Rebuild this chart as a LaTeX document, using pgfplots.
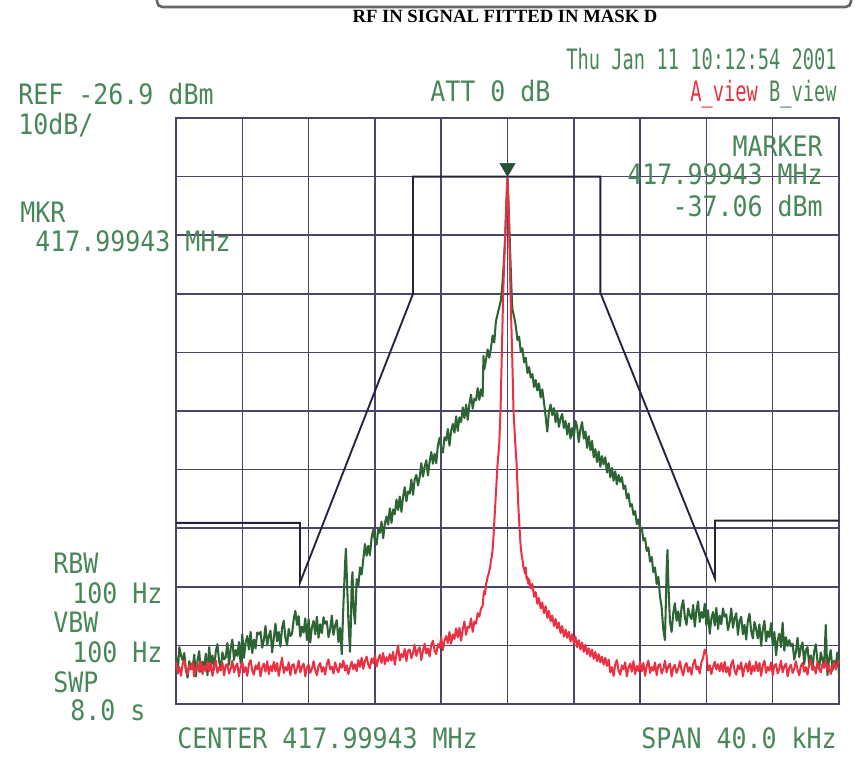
\documentclass[border=0pt]{standalone}
\usepackage{pgfplots}
\pgfplotsset{compat=1.18}
\usepackage{fontspec}
\newfontfamily\inst[FakeStretch=0.887]{DejaVu Sans Mono}
\newfontfamily\instn[FakeStretch=0.665]{DejaVu Sans Mono}
\newfontfamily\ttlfont{Liberation Serif}
\newcommand\IF{\inst\fontsize{21.1}{24}\selectfont}
\newcommand\IN{\instn\fontsize{21.1}{24}\selectfont}
\definecolor{txtgreen}{RGB}{72,135,88}
\definecolor{trgreen}{RGB}{45,100,52}
\definecolor{trred}{RGB}{235,48,66}
\definecolor{maskc}{RGB}{35,35,60}
\definecolor{gridc}{RGB}{78,68,105}
\definecolor{mkgreen}{RGB}{40,80,52}
\begin{document}
\begin{tikzpicture}
\path[use as bounding box] (0,0) rectangle (641.25pt,570pt);
\begin{axis}[
  at={(132pt,42pt)}, anchor=south west,
  width=497.25pt, height=439.5pt, scale only axis,
  xmin=-20, xmax=20, ymin=-126.9, ymax=-26.9,
  xtick={-16,-12,-8,-4,0,4,8,12,16},
  ytick={-116.9,-106.9,-96.9,-86.9,-76.9,-66.9,-56.9,-46.9,-36.9},
  xticklabels={}, yticklabels={},
  major tick length=0pt,
  grid=major,
  major grid style={color=gridc, line width=1.15pt},
  axis line style={color=gridc, line width=1.7pt},
  clip=false,
]
% mask
\addplot[maskc, line width=1.4pt, sharp plot] coordinates {
(-20,-96) (-12.52,-96) (-12.52,-106.2) (-5.7,-56.9) (-5.7,-36.9)
(5.6,-36.9) (5.6,-56.7) (12.52,-105.5) (12.52,-95.6) (20,-95.6)};
% B_view (green)
\addplot[trgreen, line width=1.55pt, sharp plot, line join=round] coordinates {
(-20.0,-118.7) (-19.9,-121.7) (-19.8,-117.2) (-19.7,-118.6) (-19.6,-119.4)
(-19.5,-118.2) (-19.4,-121.1) (-19.3,-122.4) (-19.2,-119.6) (-19.1,-120.8)
(-19.0,-120.9) (-18.9,-118.5) (-18.8,-122.2) (-18.7,-119.4) (-18.6,-117.9)
(-18.5,-121.4) (-18.4,-119.7) (-18.3,-120.7) (-18.2,-118.3) (-18.1,-122.0)
(-18.0,-117.2) (-17.9,-120.2) (-17.8,-118.6) (-17.7,-121.1) (-17.6,-117.9)
(-17.5,-116.7) (-17.4,-119.6) (-17.3,-120.9) (-17.2,-118.1) (-17.1,-119.3)
(-17.0,-118.9) (-16.9,-116.5) (-16.8,-120.2) (-16.7,-117.4) (-16.6,-115.9)
(-16.5,-119.4) (-16.4,-117.7) (-16.3,-118.7) (-16.2,-116.3) (-16.1,-120.0)
(-16.0,-115.0) (-15.9,-119.0) (-15.8,-116.4) (-15.7,-115.3) (-15.6,-117.6)
(-15.5,-114.6) (-15.4,-118.2) (-15.3,-115.9) (-15.2,-117.4) (-15.1,-114.7)
(-15.0,-115.0) (-14.9,-114.6) (-14.8,-117.3) (-14.7,-116.0) (-14.6,-113.6)
(-14.5,-116.9) (-14.4,-115.3) (-14.3,-114.4) (-14.2,-118.1) (-14.1,-115.7)
(-14.0,-113.2) (-13.9,-116.2) (-13.8,-114.6) (-13.7,-117.1) (-13.6,-113.9)
(-13.5,-112.7) (-13.4,-115.6) (-13.3,-116.9) (-13.2,-114.1) (-13.1,-115.3)
(-13.0,-114.9) (-12.9,-112.5) (-12.8,-111.0) (-12.7,-113.4) (-12.6,-111.9)
(-12.5,-115.4) (-12.4,-113.7) (-12.3,-114.7) (-12.2,-112.3) (-12.1,-116.0)
(-12.0,-112.4) (-11.9,-116.4) (-11.8,-113.8) (-11.7,-112.7) (-11.6,-115.0)
(-11.5,-112.0) (-11.4,-115.6) (-11.3,-113.3) (-11.2,-114.8) (-11.1,-112.1)
(-11.0,-113.2) (-10.9,-112.8) (-10.8,-115.5) (-10.7,-114.2) (-10.6,-111.8)
(-10.5,-115.1) (-10.4,-113.5) (-10.3,-112.6) (-10.2,-116.3) (-10.1,-113.9)
(-10.0,-118.4) (-9.95,-114.0) (-9.9,-110.0) (-9.8,-103.0) (-9.75,-100.4)
(-9.7,-104.6) (-9.6,-112.6) (-9.5,-118.0) (-9.45,-113.0) (-9.4,-106.0)
(-9.35,-104.4) (-9.3,-110.2) (-9.2,-113.2) (-9.1,-105.6) (-9.0,-106.8)
(-8.9,-103.6) (-8.8,-104.8) (-8.7,-102.2)
(-8.6,-99.6) (-8.5,-101.6) (-8.4,-99.9) (-8.3,-101.5) (-8.2,-98.5)
(-8.1,-97.2) (-8.0,-99.1) (-7.9,-99.7) (-7.8,-97.1) (-7.7,-97.7)
(-7.6,-95.8) (-7.5,-98.6) (-7.4,-96.1) (-7.3,-94.9) (-7.2,-96.3)
(-7.1,-93.5) (-7.0,-96.0) (-6.9,-93.7) (-6.8,-94.5) (-6.7,-92.0)
(-6.6,-93.8) (-6.5,-91.5) (-6.4,-94.1) (-6.3,-91.5) (-6.2,-89.9)
(-6.1,-92.3) (-6.0,-90.6) (-5.9,-91.0) (-5.8,-88.6) (-5.7,-91.2)
(-5.6,-88.6) (-5.5,-87.8) (-5.4,-89.6) (-5.3,-88.2) (-5.2,-85.8)
(-5.1,-88.1) (-5.0,-86.4) (-4.9,-85.3) (-4.8,-87.9) (-4.7,-85.6)
(-4.6,-83.9) (-4.5,-85.9) (-4.4,-84.2) (-4.3,-85.8) (-4.2,-82.8)
(-4.1,-81.5) (-4.0,-83.4) (-3.9,-84.0) (-3.8,-81.4) (-3.7,-81.9)
(-3.6,-80.0) (-3.5,-82.8) (-3.4,-80.3) (-3.3,-79.1) (-3.2,-80.6)
(-3.1,-77.8) (-3.0,-80.3) (-2.9,-78.0) (-2.8,-78.8) (-2.7,-76.3)
(-2.6,-78.1) (-2.5,-75.8) (-2.4,-78.4) (-2.3,-75.7) (-2.2,-74.1)
(-2.1,-76.5) (-2.0,-74.8) (-1.9,-75.1) (-1.8,-73.0) (-1.7,-75.0)
(-1.6,-73.2) (-1.5,-74.4) (-1.45,-67.5) (-1.4,-69.8) (-1.3,-68.2)
(-1.2,-66.4) (-1.1,-67.8) (-1.0,-66.2) (-0.9,-64.0) (-0.8,-65.2)
(-0.7,-61.6) (-0.6,-60.4) (-0.5,-59.2) (-0.4,-58.0) (-0.3,-55.0)
(-0.15,-48.0) (-0.05,-40.0) (0.0,-37.06) (0.05,-40.5) (0.15,-49.0)
(0.25,-57.0) (0.3,-59.6) (0.4,-60.8) (0.5,-62.4) (0.6,-64.8)
(0.7,-64.2) (0.8,-66.8) (0.9,-66.2) (1.0,-68.6) (1.1,-67.8)
(1.2,-70.4) (1.3,-69.4) (1.4,-71.2) (1.5,-70.6) (1.6,-72.8)
(1.7,-71.6) (1.8,-73.4) (1.9,-72.2) (2.0,-74.6) (2.1,-73.2)
(2.2,-75.4) (2.3,-77.8) (2.4,-80.4) (2.5,-77.0) (2.6,-75.8)
(2.7,-77.6) (2.8,-76.4) (2.9,-78.8) (3.0,-77.2) (3.1,-79.6)
(3.2,-78.2) (3.3,-77.4) (3.4,-79.8) (3.5,-78.6) (3.6,-80.9)
(3.7,-79.0) (3.8,-81.6) (3.9,-79.8) (4.0,-81.4) (4.1,-78.6)
(4.2,-79.6) (4.3,-82.2) (4.4,-80.0) (4.5,-78.8) (4.6,-81.6)
(4.7,-80.4) (4.8,-83.2) (4.9,-81.2) (5.0,-83.6) (5.1,-82.0)
(5.2,-84.8) (5.3,-83.4) (5.4,-85.6) (5.5,-83.8) (5.6,-86.4)
(5.7,-84.6) (5.8,-86.0) (5.9,-84.8) (6.0,-87.4) (6.1,-85.8)
(6.2,-88.2) (6.3,-86.6) (6.4,-88.8) (6.5,-87.2) (6.6,-89.4)
(6.7,-87.8) (6.8,-89.0) (6.9,-88.2) (7.0,-90.2) (7.1,-89.6)
(7.2,-91.8) (7.3,-91.0) (7.4,-93.2) (7.5,-92.8) (7.6,-94.6)
(7.7,-94.0) (7.8,-96.2) (7.9,-95.4) (8.0,-97.2) (8.1,-96.8)
(8.2,-99.0) (8.3,-98.6) (8.4,-100.8) (8.5,-100.2) (8.6,-102.6)
(8.7,-101.8) (8.8,-104.4) (8.9,-103.6) (9.0,-106.4) (9.1,-105.2)
(9.2,-108.6) (9.3,-110.4) (9.4,-114.2) (9.5,-116.0) (9.55,-110.0)
(9.6,-104.0) (9.65,-100.6) (9.7,-106.0) (9.8,-112.8) (9.9,-114.6)
(10.0,-111.4) (10.1,-109.7) (10.2,-112.7) (10.3,-111.1) (10.4,-113.6)
(10.5,-110.4) (10.6,-109.2) (10.7,-112.1) (10.8,-113.4) (10.9,-110.6)
(11.0,-111.8) (11.1,-112.4) (11.2,-110.0) (11.3,-113.7) (11.4,-110.9)
(11.5,-109.4) (11.6,-112.9) (11.7,-111.2) (11.8,-112.2) (11.9,-109.8)
(12.0,-113.5) (12.1,-110.9) (12.2,-114.9) (12.3,-112.3) (12.4,-111.2)
(12.5,-113.5) (12.6,-110.5) (12.7,-114.1) (12.8,-111.8) (12.9,-113.3)
(13.0,-110.6) (13.1,-112.0) (13.2,-111.6) (13.3,-114.3) (13.4,-113.0)
(13.5,-110.6) (13.6,-113.9) (13.7,-112.3) (13.8,-111.4) (13.9,-115.1)
(14.0,-112.7) (14.1,-112.0) (14.2,-115.0) (14.3,-113.4) (14.4,-115.9)
(14.5,-112.7) (14.6,-111.5) (14.7,-114.4) (14.8,-115.7) (14.9,-112.9)
(15.0,-114.1) (15.1,-115.7) (15.2,-113.3) (15.3,-117.0) (15.4,-114.2)
(15.5,-112.7) (15.6,-116.2) (15.7,-114.5) (15.8,-115.5) (15.9,-113.1)
(16.0,-116.8) (16.1,-114.6) (16.2,-118.6) (16.3,-116.0) (16.4,-114.9)
(16.5,-117.2) (16.6,-113.0) (16.7,-117.8) (16.8,-115.5) (16.9,-117.0)
(17.0,-116.0) (17.1,-117.0) (17.2,-116.6) (17.3,-119.3) (17.4,-118.0)
(17.5,-115.6) (17.6,-118.9) (17.7,-117.3) (17.8,-116.4) (17.9,-120.1)
(18.0,-117.7) (18.1,-117.2) (18.2,-120.2) (18.3,-118.6) (18.4,-121.1)
(18.5,-117.9) (18.6,-116.7) (18.7,-119.6) (18.8,-120.9) (18.9,-118.1)
(19.0,-119.3) (19.1,-120.7) (19.2,-113.4) (19.3,-122.0) (19.4,-119.2)
(19.5,-117.7) (19.6,-121.2) (19.7,-119.5) (19.8,-120.5) (19.9,-118.1)
(20.0,-121.8)};
% A_view (red)
\addplot[trred, line width=1.5pt, sharp plot, line join=round] coordinates {
(-20.0,-119.7) (-19.9,-121.5) (-19.8,-120.6) (-19.7,-122.1) (-19.6,-120.1)
(-19.5,-119.4) (-19.4,-121.2) (-19.3,-121.9) (-19.2,-120.3) (-19.1,-121.0)
(-19.0,-119.8) (-18.9,-122.2) (-18.8,-120.7) (-18.7,-120.0) (-18.6,-121.4)
(-18.5,-119.6) (-18.4,-121.8) (-18.3,-120.4) (-18.2,-121.3) (-18.1,-119.7)
(-18.0,-121.3) (-17.9,-119.9) (-17.8,-122.1) (-17.7,-120.4) (-17.6,-119.5)
(-17.5,-121.6) (-17.4,-120.6) (-17.3,-121.2) (-17.2,-119.8) (-17.1,-122.0)
(-17.0,-120.3) (-16.9,-120.1) (-16.8,-121.7) (-16.7,-120.9) (-16.6,-119.5)
(-16.5,-121.5) (-16.4,-120.5) (-16.3,-120.0) (-16.2,-122.2) (-16.1,-120.7)
(-16.0,-119.7) (-15.9,-121.5) (-15.8,-120.6) (-15.7,-122.1) (-15.6,-120.1)
(-15.5,-119.4) (-15.4,-121.2) (-15.3,-121.9) (-15.2,-120.3) (-15.1,-121.0)
(-15.0,-119.8) (-14.9,-122.2) (-14.8,-120.7) (-14.7,-120.0) (-14.6,-121.4)
(-14.5,-119.6) (-14.4,-121.8) (-14.3,-120.4) (-14.2,-121.3) (-14.1,-119.7)
(-14.0,-121.3) (-13.9,-119.9) (-13.8,-122.1) (-13.7,-120.4) (-13.6,-119.0)
(-13.5,-121.6) (-13.4,-120.6) (-13.3,-121.2) (-13.2,-119.8) (-13.1,-122.0)
(-13.0,-120.3) (-12.9,-120.1) (-12.8,-121.7) (-12.7,-120.9) (-12.6,-119.5)
(-12.5,-121.5) (-12.4,-120.5) (-12.3,-120.0) (-12.2,-122.2) (-12.1,-120.7)
(-12.0,-120.2) (-11.9,-121.6) (-11.8,-120.9) (-11.7,-119.6) (-11.6,-121.1)
(-11.5,-122.0) (-11.4,-120.4) (-11.3,-119.9) (-11.2,-121.4) (-11.1,-120.6)
(-11.0,-121.9) (-10.9,-120.1) (-10.8,-119.3) (-10.7,-121.0) (-10.6,-120.5)
(-10.5,-121.7) (-10.4,-119.8) (-10.3,-120.9) (-10.2,-121.5) (-10.1,-120.0)
(-10.0,-120.7) (-9.9,-119.5) (-9.8,-121.2) (-9.7,-120.3) (-9.6,-121.8)
(-9.5,-120.6) (-9.4,-119.7) (-9.3,-121.0) (-9.2,-120.1) (-9.1,-121.3)
(-9.0,-119.4) (-8.9,-120.6) (-8.8,-119.0) (-8.7,-120.9) (-8.6,-119.6)
(-8.5,-118.8) (-8.4,-120.2) (-8.3,-120.8) (-8.2,-119.1) (-8.1,-119.9)
(-8.0,-118.6) (-7.9,-120.5) (-7.8,-119.3) (-7.7,-118.5) (-7.6,-119.9)
(-7.5,-118.2) (-7.4,-120.1) (-7.3,-118.9) (-7.2,-119.6) (-7.1,-118.4)
(-7.0,-119.5) (-6.9,-118.0) (-6.8,-120.2) (-6.7,-118.4) (-6.6,-116.9)
(-6.5,-119.5) (-6.4,-118.4) (-6.3,-118.9) (-6.2,-117.5) (-6.1,-119.6)
(-6.0,-117.8) (-5.9,-117.6) (-5.8,-119.1) (-5.7,-118.2) (-5.6,-116.8)
(-5.5,-118.7) (-5.4,-117.7) (-5.3,-117.2) (-5.2,-119.4) (-5.1,-117.8)
(-5.0,-116.6) (-4.9,-118.3) (-4.8,-117.4) (-4.7,-118.8) (-4.6,-116.8)
(-4.5,-116.1) (-4.4,-117.8) (-4.3,-118.4) (-4.2,-116.7) (-4.1,-117.3)
(-4.0,-115.5) (-3.9,-117.7) (-3.8,-116.1) (-3.7,-115.3) (-3.6,-116.5)
(-3.5,-114.6) (-3.4,-116.6) (-3.3,-115.0) (-3.2,-115.8) (-3.1,-114.0)
(-3.0,-115.5) (-2.9,-113.9) (-2.8,-116.1) (-2.7,-114.2) (-2.6,-112.8)
(-2.5,-115.1) (-2.4,-113.7) (-2.3,-113.9) (-2.2,-112.3) (-2.1,-114.6)
(-2.0,-112.8) (-1.9,-113.2) (-1.8,-111.4) (-1.7,-112.0) (-1.6,-110.6)
(-1.5,-110.2) (-1.45,-108.4) (-1.4,-107.6) (-1.35,-108.2) (-1.3,-106.4)
(-1.25,-106.0) (-1.2,-105.2) (-1.15,-104.8) (-1.1,-104.2) (-1.05,-103.6)
(-1.0,-102.4) (-0.95,-101.8) (-0.9,-100.6) (-0.85,-98.6) (-0.8,-96.0)
(-0.7,-91.0) (-0.6,-86.0) (-0.5,-82.6) (-0.42,-76.7) (-0.35,-68.0)
(-0.26,-56.8) (-0.18,-50.0) (-0.1,-44.0) (0.0,-37.06) (0.08,-44.0)
(0.18,-56.8) (0.28,-67.0) (0.36,-76.7) (0.46,-82.0) (0.55,-86.0)
(0.65,-93.0) (0.75,-98.0) (0.8,-100.2) (0.85,-101.4) (0.9,-102.2)
(0.95,-103.4) (1.0,-103.8) (1.05,-104.6) (1.1,-103.6) (1.15,-105.6)
(1.2,-105.2) (1.25,-106.4) (1.3,-105.6) (1.4,-107.2) (1.5,-106.4)
(1.6,-108.6) (1.7,-107.8) (1.8,-109.8) (1.9,-108.8) (2.0,-110.6)
(2.1,-109.6) (2.2,-111.4) (2.3,-110.2) (2.4,-112.2) (2.5,-111.0)
(2.6,-112.8) (2.7,-111.8) (2.8,-113.6) (2.9,-112.4) (3.0,-114.0)
(3.1,-113.0) (3.2,-114.8) (3.3,-113.6) (3.4,-115.4) (3.5,-114.2)
(3.6,-115.6) (3.7,-114.6) (3.8,-116.2) (3.9,-115.0) (4.0,-116.6)
(4.1,-115.4) (4.2,-117.2) (4.3,-116.0) (4.4,-117.6) (4.5,-116.4)
(4.6,-118.0) (4.7,-116.8) (4.8,-118.4) (4.9,-117.4) (5.0,-118.8)
(5.1,-117.6) (5.2,-119.2) (5.3,-118.0) (5.4,-119.6) (5.5,-118.4)
(5.6,-119.8) (5.7,-118.8) (5.8,-120.2) (5.9,-119.0) (6.0,-120.4)
(6.1,-119.3) (6.2,-121.5) (6.3,-120.6) (6.4,-122.1) (6.5,-120.1)
(6.6,-119.4) (6.7,-121.2) (6.8,-121.9) (6.9,-120.3) (7.0,-121.0)
(7.1,-119.8) (7.2,-122.2) (7.3,-120.7) (7.4,-120.0) (7.5,-121.4)
(7.6,-119.6) (7.7,-121.8) (7.8,-120.4) (7.9,-121.3) (8.0,-119.7)
(8.1,-121.3) (8.2,-119.9) (8.3,-122.1) (8.4,-120.4) (8.5,-119.5)
(8.6,-121.6) (8.7,-120.6) (8.8,-121.2) (8.9,-119.8) (9.0,-122.0)
(9.1,-120.3) (9.2,-120.1) (9.3,-121.7) (9.4,-120.9) (9.5,-119.5)
(9.6,-121.5) (9.7,-120.5) (9.8,-120.0) (9.9,-122.2) (10.0,-120.7)
(10.1,-120.2) (10.2,-121.6) (10.3,-120.9) (10.4,-119.6) (10.5,-121.1)
(10.6,-122.0) (10.7,-120.4) (10.8,-119.9) (10.9,-121.4) (11.0,-120.6)
(11.1,-121.9) (11.2,-120.1) (11.3,-119.3) (11.4,-121.0) (11.5,-120.5)
(11.6,-121.7) (11.7,-119.8) (11.8,-119.0) (11.9,-117.6) (12.0,-118.4)
(12.1,-121.2) (12.2,-120.3) (12.3,-121.8) (12.4,-120.6) (12.5,-119.7)
(12.6,-121.0) (12.7,-120.1) (12.8,-121.3) (12.9,-119.9) (13.0,-121.4)
(13.1,-119.7) (13.2,-121.5) (13.3,-120.6) (13.4,-122.1) (13.5,-120.1)
(13.6,-119.4) (13.7,-121.2) (13.8,-121.9) (13.9,-120.3) (14.0,-121.0)
(14.1,-119.8) (14.2,-122.2) (14.3,-120.7) (14.4,-120.0) (14.5,-121.4)
(14.6,-119.6) (14.7,-121.8) (14.8,-120.4) (14.9,-121.3) (15.0,-119.7)
(15.1,-121.3) (15.2,-119.9) (15.3,-122.1) (15.4,-120.4) (15.5,-119.5)
(15.6,-121.6) (15.7,-120.6) (15.8,-121.2) (15.9,-119.8) (16.0,-122.0)
(16.1,-120.3) (16.2,-120.1) (16.3,-121.7) (16.4,-120.9) (16.5,-119.5)
(16.6,-121.5) (16.7,-120.5) (16.8,-120.0) (16.9,-122.2) (17.0,-120.7)
(17.1,-120.2) (17.2,-121.6) (17.3,-120.9) (17.4,-119.6) (17.5,-121.1)
(17.6,-122.0) (17.7,-120.4) (17.8,-119.9) (17.9,-121.4) (18.0,-120.6)
(18.1,-121.9) (18.2,-120.1) (18.3,-119.3) (18.4,-121.0) (18.5,-120.5)
(18.6,-121.7) (18.7,-119.8) (18.8,-120.9) (18.9,-121.5) (19.0,-120.0)
(19.1,-120.7) (19.2,-119.5) (19.3,-121.2) (19.4,-120.3) (19.5,-121.8)
(19.6,-120.6) (19.7,-119.7) (19.8,-121.0) (19.9,-120.1) (20.0,-119.4)};
% marker
\addplot[only marks, mark=triangle*, mark size=6.5pt,
  mark options={rotate=180, fill=mkgreen, draw=mkgreen}] coordinates {(0,-35.4)};
\end{axis}
\begin{scope}[x=0.75pt,y=0.75pt]
% top box edge
\draw[color=gray!80!black, line width=2pt, rounded corners=4] (157,762) -- (157,753) -- (851,753) -- (851,762);
% title
\node[anchor=base, inner sep=0pt] at (505,737) {\ttlfont\bfseries\fontsize{14}{16}\selectfont RF IN SIGNAL FITTED IN MASK D};
% instrument annotations
\begin{scope}[every node/.style={inner sep=0pt, text=txtgreen}]
\node[anchor=base east] at (837,690) {\IN Thu Jan 11 10:12:54 2001};
\node[anchor=base east] at (837,658) {\IN\textcolor{trred}{A\_view} B\_view};
\node[anchor=base west] at (18,655) {\IF REF -26.9 dBm};
\node[anchor=base west] at (18,625) {\IF 10dB/};
\node[anchor=base west] at (430,658) {\IF ATT 0 dB};
\node[anchor=base east] at (823,603) {\IF MARKER};
\node[anchor=base east] at (823,575) {\IF 417.99943 MHz};
\node[anchor=base east] at (823,543) {\IF -37.06 dBm};
\node[anchor=base west] at (20,537) {\IF MKR};
\node[anchor=base west] at (35,508) {\IF 417.99943 MHz};
\node[anchor=base west] at (53,187) {\IF RBW};
\node[anchor=base west] at (72,157) {\IF 100 Hz};
\node[anchor=base west] at (53,128) {\IF VBW};
\node[anchor=base west] at (72,98) {\IF 100 Hz};
\node[anchor=base west] at (53,68) {\IF SWP};
\node[anchor=base west] at (70,40) {\IF 8.0 s};
\node[anchor=base west] at (177,12) {\IF CENTER 417.99943 MHz};
\node[anchor=base east] at (837,12) {\IF SPAN 40.0 kHz};
\end{scope}
\end{scope}
\end{tikzpicture}
\end{document}
